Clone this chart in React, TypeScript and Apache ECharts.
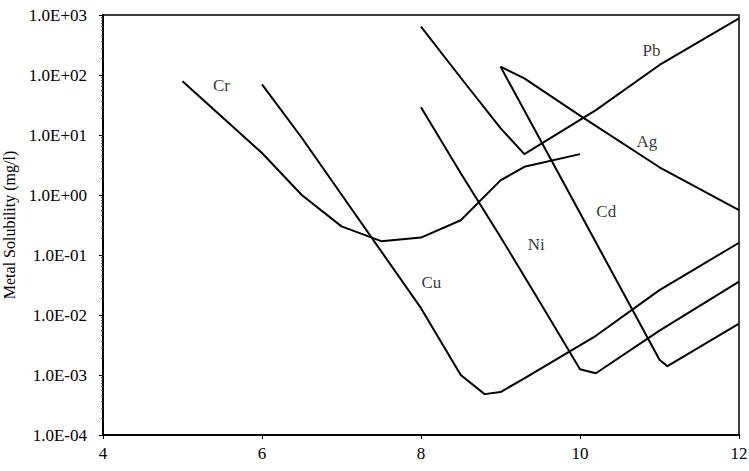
import React, { useEffect, useRef } from "react";
import * as echarts from "echarts";

// pH values and metal solubility (mg/l)
const crX = [5, 6, 6.5, 7, 7.5, 8, 8.5, 9, 9.3, 10];
const crY = [79, 5, 1.0, 0.3, 0.17, 0.195, 0.38, 1.75, 2.95, 4.8];

const cuX = [6, 6.5, 8, 8.5, 8.8, 9, 9.3, 10.2, 11, 12];
const cuY = [70, 9, 0.013, 0.001, 0.00048, 0.00052, 0.00088, 0.0045, 0.026, 0.16];

const niX = [8, 8.5, 9, 9.5, 10, 10.2, 11, 12];
const niY = [29, 2.3, 0.2, 0.016, 0.00125, 0.00107, 0.0055, 0.036];

const cdX = [9, 10, 11, 11.1, 12];
const cdY = [138, 0.5, 0.0018, 0.0014, 0.0072];

const agX = [9, 9.3, 10, 11, 12];
const agY = [138, 88, 21, 2.9, 0.56];

const pbX = [8, 8.5, 9, 9.3, 10.2, 11, 12];
const pbY = [640, 90, 13, 4.8, 26, 147, 880];

const labelNames = ["Cr", "Cu", "Ni", "Cd", "Ag", "Pb"];
const labelX = [5.49, 8.13, 9.45, 10.33, 10.84, 10.9];
const labelY = [68, 0.035, 0.147, 0.525, 7.8, 260];

const xTicks = { min: 4, max: 12, interval: 2 };
const yRange = { min: 1e-4, max: 1e3 };

const FONT = "'Liberation Serif', 'Times New Roman', serif";

const zip = (xs: number[], ys: number[]) => xs.map((x, i) => [x, ys[i]]);

const fmtExp = (v: number) => {
  const e = Math.round(Math.log10(v));
  const sign = e < 0 ? "-" : "+";
  return "1.0E" + sign + String(Math.abs(e)).padStart(2, "0");
};

export default function App() {
  const ref = useRef<HTMLDivElement>(null);
  useEffect(() => {
    if (!ref.current) return;
    const chart = echarts.init(ref.current, undefined, { renderer: "svg" });
    const lineSeries = [
      ["Cr", crX, crY],
      ["Cu", cuX, cuY],
      ["Ni", niX, niY],
      ["Cd", cdX, cdY],
      ["Ag", agX, agY],
      ["Pb", pbX, pbY],
    ].map(([name, xs, ys]) => ({
      name: name as string,
      type: "line" as const,
      data: zip(xs as number[], ys as number[]),
      showSymbol: false,
      symbol: "none",
      silent: true,
      lineStyle: { color: "#000", width: 2 },
    }));
    chart.setOption({
      animation: false,
      backgroundColor: "#fff",
      grid: {
        left: 103,
        right: 10,
        top: 15,
        bottom: 36,
        show: true,
        borderColor: "#000",
        borderWidth: 1.5,
        containLabel: false,
        outerBoundsMode: "none",
      },
      xAxis: {
        type: "value",
        min: xTicks.min,
        max: xTicks.max,
        interval: xTicks.interval,
        axisLine: { show: true, lineStyle: { color: "#000", width: 2 } },
        axisTick: { show: true, length: 4, lineStyle: { color: "#000" } },
        splitLine: { show: false },
        axisLabel: { color: "#000", fontSize: 17, fontFamily: FONT, margin: 10 },
      },
      yAxis: {
        type: "log",
        logBase: 10,
        min: yRange.min,
        max: yRange.max,
        axisLine: { show: true, lineStyle: { color: "#000", width: 2 } },
        axisTick: { show: true, length: 4, lineStyle: { color: "#000" } },
        minorTick: { show: true, splitNumber: 10, length: 2, lineStyle: { color: "#555" } },
        splitLine: { show: false },
        axisLabel: {
          color: "#000",
          fontSize: 17,
          fontFamily: FONT,
          margin: 16,
          formatter: (v: number) => fmtExp(v),
        },
        name: "Metal Solubility (mg/l)",
        nameLocation: "middle",
        nameRotate: 90,
        nameGap: 84,
        nameTextStyle: { color: "#000", fontSize: 16, fontFamily: FONT },
      },
      series: [
        ...lineSeries,
        {
          type: "scatter",
          silent: true,
          symbolSize: 1,
          itemStyle: { color: "transparent" },
          data: labelNames.map((n, i) => ({ name: n, value: [labelX[i], labelY[i]] })),
          label: {
            show: true,
            position: "inside",
            formatter: "{b}",
            color: "#000",
            fontSize: 17,
            fontFamily: FONT,
          },
        },
      ],
    });
    return () => chart.dispose();
  }, []);
  return (
    <div
      ref={ref}
      style={{ position: "fixed", left: 0, top: 0, width: 749, height: 471, background: "#fff" }}
    />
  );
}
